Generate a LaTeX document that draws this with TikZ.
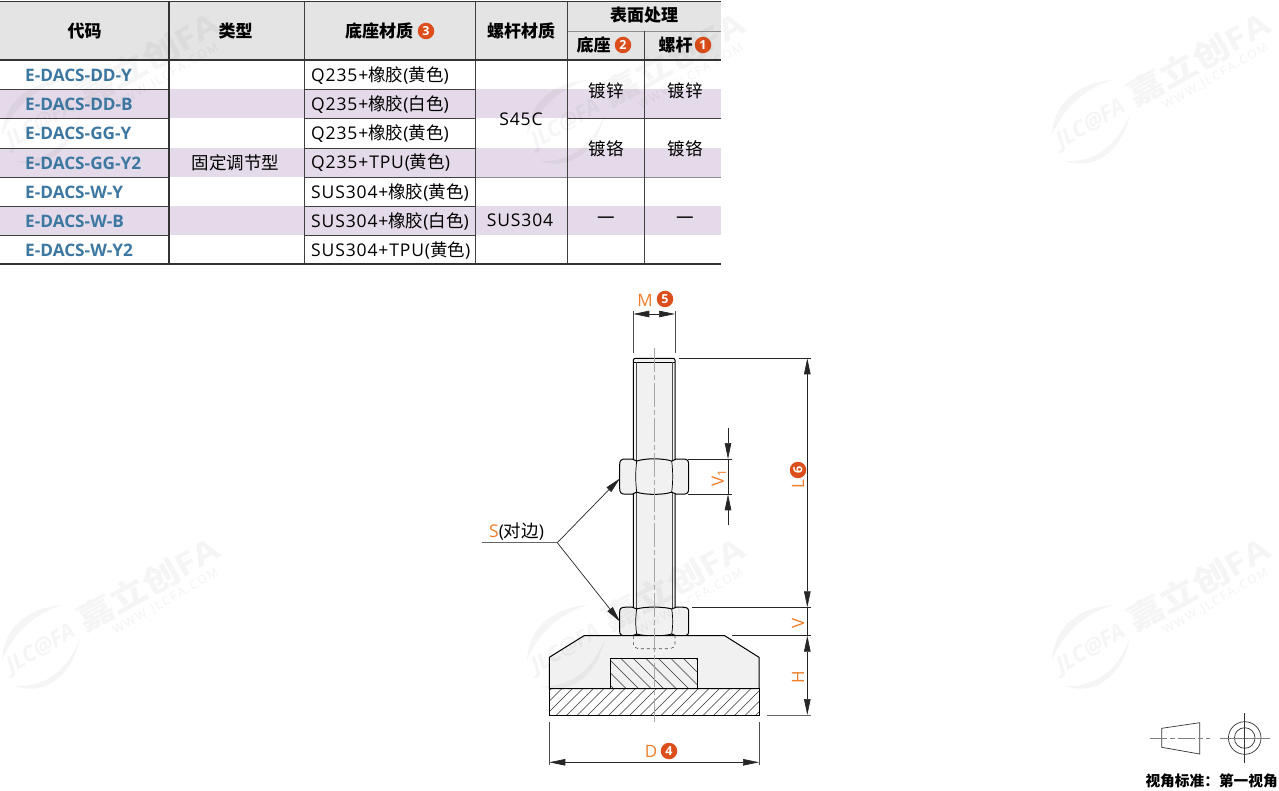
\documentclass[tikz,border=0pt]{standalone}
\usepackage{fontspec}
\setmainfont{Open Sans}
\newfontfamily\cjk{Noto Sans CJK SC}
\usetikzlibrary{arrows.meta}
\definecolor{headgray}{HTML}{E4E4E4}
\definecolor{rowlilac}{HTML}{E4DAE9}
\definecolor{codeblue}{HTML}{3D78A2}
\definecolor{dimorange}{HTML}{EF7D2A}
\definecolor{dotred}{HTML}{DC4E1B}
\definecolor{partgray}{HTML}{F1F1F1}
\newcommand{\zh}[1]{{\cjk #1}}
\tikzset{
    cell/.style={inner sep=0pt, font=\fontsize{17.5}{20}\selectfont\addfontfeatures{LetterSpace=5}},
    headcell/.style={inner sep=0pt, font=\fontsize{17}{20}\selectfont\bfseries},
    codecell/.style={inner sep=0pt, anchor=west, text=codeblue, font=\fontsize{17.2}{18}\selectfont\bfseries},
    numdot/.style={circle, fill=dotred, text=white, inner sep=0pt, minimum size=16.5pt, font=\fontsize{12.5}{12}\selectfont\bfseries},
    dimtext/.style={inner sep=0pt, text=dimorange, font=\fontsize{17}{18}\selectfont},
    thickrule/.style={line width=1.5pt, draw=black!80},
    thinrule/.style={line width=.8pt, draw=black!75},
    lightrule/.style={line width=.8pt, draw=black!45},
    outline/.style={line width=1pt, draw=black},
    dimrule/.style={line width=.7pt, draw=black!85},
    dimarrow/.style={dimrule, {Stealth[length=16pt,width=6.5pt,inset=0pt]}-{Stealth[length=16pt,width=6.5pt,inset=0pt]}},
    singlearrow/.style={dimrule, -{Stealth[length=16pt,width=6.5pt,inset=0pt]}},
    axisline/.style={line width=.6pt, draw=black!35, dash pattern=on 24pt off 3pt on 5pt off 3pt},
    hatching/.style={line width=.45pt, draw=black!80},
    hexnut/.pic={
        \draw[outline, fill=partgray] (-34.5,-12) .. controls (-34.5,-16) and (-33,-17.6) .. (-29,-17.6) -- (-22,-17.6) -- (-17.5,-15.5)
            .. controls (-10,-18.5) and (10,-18.5) .. (17.5,-15.5) -- (22,-17.6) -- (29,-17.6) .. controls (33,-17.6) and (34.5,-16) .. (34.5,-12)
            -- (34.5,12) .. controls (34.5,16) and (33,17.6) .. (29,17.6) -- (22,17.6) -- (17.5,15.5)
            .. controls (10,18.5) and (-10,18.5) .. (-17.5,15.5) -- (-22,17.6) -- (-29,17.6) .. controls (-33,17.6) and (-34.5,16) .. (-34.5,12) -- cycle;
        \draw[line width=.7pt] (-17.5,-15.5) .. controls (-18.8,-5) and (-18.8,5) .. (-17.5,15.5);
        \draw[line width=.7pt] (17.5,-15.5) .. controls (18.8,-5) and (18.8,5) .. (17.5,15.5);
    },
    jlcmark/.pic={
        \fill[black, opacity=.04] (63,75) .. controls (30,77) and (4,96) .. (2,130) .. controls (12,106) and (32,84) .. (63,75) -- cycle;
        \fill[black, opacity=.04] (80,108) .. controls (75,138) and (50,168) .. (15,156) .. controls (45,158) and (68,140) .. (80,108) -- cycle;
        \node[rotate=30, inner sep=0pt, text=black, opacity=.04, font=\fontsize{22}{22}\selectfont\bfseries\itshape] (logo) at (41,120) {JLC@FA};
        \node[rotate=29, xscale=1.2, inner sep=0pt, text=black, opacity=.04, font=\fontsize{31}{31}\selectfont\bfseries] (name) at (148,54) {\zh{嘉立创}FA};
        \node[rotate=30, inner sep=0pt, text=black, opacity=.05, font=\fontsize{12}{12}\selectfont\addfontfeatures{LetterSpace=16}] (site) at (166,72) {WWW.JLCFA.COM};
    }
}
\begin{document}
\begin{tikzpicture}[x=1pt, y=-1pt]
    \useasboundingbox (0,0) rectangle (1279,791);
    \fill[white] (0,0) rectangle (1279,791);

    \fill[headgray] (0,2) rectangle (721,60);
    \fill[rowlilac] (0,89.5) rectangle (721,118.5);
    \fill[rowlilac] (0,148) rectangle (721,177);
    \fill[rowlilac] (0,206.5) rectangle (721,235.5);

    \draw[thinrule] (0,89.5) -- (169,89.5);
    \draw[thinrule] (304,89.5) -- (475,89.5);
    \draw[thinrule] (0,118.5) -- (169,118.5);
    \draw[thinrule] (304,118.5) -- (475,118.5);
    \draw[thinrule] (567,118.5) -- (721,118.5);
    \draw[thinrule] (0,148) -- (169,148);
    \draw[thinrule] (304,148) -- (475,148);
    \draw[thinrule] (0,177) -- (169,177);
    \draw[thinrule] (304,177) -- (475,177);
    \draw[lightrule] (475,177) -- (721,177);
    \draw[thinrule] (0,206.5) -- (169,206.5);
    \draw[thinrule] (304,206.5) -- (475,206.5);
    \draw[thinrule] (0,235.5) -- (169,235.5);
    \draw[thinrule] (304,235.5) -- (475,235.5);
    \draw[lightrule] (567,31) -- (721,31);
    \draw[thinrule] (304,2) -- (304,264);
    \draw[thinrule] (475,2) -- (475,264);
    \draw[thinrule] (567,2) -- (567,264);
    \draw[thinrule] (644,31) -- (644,264);
    \draw[thickrule] (169,2) -- (169,264);
    \draw[thickrule] (0,1.5) -- (721,1.5);
    \draw[thickrule] (0,60) -- (721,60);
    \draw[thickrule] (0,264) -- (721,264);

    \node[headcell] (codehead) at (84.5,31) {\zh{代码}};
    \node[headcell] (typehead) at (235.5,31) {\zh{类型}};
    \node[headcell] (basehead) at (379,31) {\zh{底座材质}};
    \node[numdot] (dotthree) at (426,31) {3};
    \node[headcell] (screwhead) at (521,31) {\zh{螺杆材质}};
    \node[headcell] (surfacehead) at (644,15.5) {\zh{表面处理}};
    \node[headcell] (surfbasehead) at (593.5,45) {\zh{底座}};
    \node[numdot] (dottwo) at (623,45) {2};
    \node[headcell] (surfscrewhead) at (675.5,45) {\zh{螺杆}};
    \node[numdot] (dotone) at (703,45) {1};

    \node[codecell] (codea) at (25,75.5) {E-DACS-DD-Y};
    \node[codecell] (codeb) at (25,104.5) {E-DACS-DD-B};
    \node[codecell] (codec) at (25,133.5) {E-DACS-GG-Y};
    \node[codecell] (coded) at (25,163) {E-DACS-GG-Y2};
    \node[codecell] (codee) at (25,192.5) {E-DACS-W-Y};
    \node[codecell] (codef) at (25,221.5) {E-DACS-W-B};
    \node[codecell] (codeg) at (25,250.5) {E-DACS-W-Y2};

    \node[cell] (typecell) at (235.5,162.5) {\zh{固定调节型}};

    \node[cell, anchor=west] (basea) at (311,75.5) {Q235+\zh{橡胶}(\zh{黄色})};
    \node[cell, anchor=west] (baseb) at (311,104.5) {Q235+\zh{橡胶}(\zh{白色})};
    \node[cell, anchor=west] (basec) at (311,133.5) {Q235+\zh{橡胶}(\zh{黄色})};
    \node[cell, anchor=west] (based) at (311,162.5) {Q235+TPU(\zh{黄色})};
    \node[cell, anchor=west] (basee) at (311,192.5) {SUS304+\zh{橡胶}(\zh{黄色})};
    \node[cell, anchor=west] (basef) at (311,221.5) {SUS304+\zh{橡胶}(\zh{白色})};
    \node[cell, anchor=west] (baseg) at (311,250.5) {SUS304+TPU(\zh{黄色})};

    \node[cell] (screwa) at (521,119) {S45C};
    \node[cell] (screwb) at (520,220.5) {SUS304};
    \node[cell] (zinca) at (606,90.5) {\zh{镀锌}};
    \node[cell] (zincb) at (685,90.5) {\zh{镀锌}};
    \node[cell] (chroma) at (606,148.5) {\zh{镀铬}};
    \node[cell] (chromb) at (685,148.5) {\zh{镀铬}};
    \node[cell] (nonea) at (606,220.5) {\zh{一}};
    \node[cell] (noneb) at (685,220.5) {\zh{一}};

    \draw[outline, fill=partgray, rounded corners=2pt] (633.3,612) -- (633.3,358.3) -- (675,358.3) -- (675,612);
    \draw[line width=.5pt] (633.3,362.3) -- (675,362.3);
    \draw[line width=.5pt, draw=black!70] (636.7,362.3) -- (636.7,612);
    \draw[line width=.5pt, draw=black!70] (672.3,362.3) -- (672.3,612);
    \pic[yscale=1] at (654.2,476.6) {hexnut};
    \pic[yscale=.81] at (654.2,621.5) {hexnut};

    \draw[outline, fill=partgray] (584,635.7) -- (724.7,635.7) -- (759,657.3) -- (759,688.7) -- (549.3,688.7) -- (549.3,657.3) -- cycle;
    \draw[line width=.6pt, dashed, draw=black!70, rounded corners=5pt] (633.3,636) -- (633.3,648.7) -- (675,648.7) -- (675,636);

    \begin{scope}
        \clip (610.3,658.3) rectangle (697.7,688.7);
        \foreach \hx in {0,12.5,...,125} {
            \draw[hatching] (580+\hx,655) -- (620+\hx,695);
        }
    \end{scope}
    \draw[outline] (610.3,688.7) -- (610.3,658.3) -- (697.7,658.3) -- (697.7,688.7);
    \begin{scope}
        \clip (549.3,688.7) rectangle (759,715);
        \foreach \hx in {0,10.5,...,252} {
            \draw[hatching] (520+\hx,720) -- (560+\hx,680);
        }
    \end{scope}
    \draw[outline] (549.3,688.7) rectangle (759,715);
    \draw[axisline] (654.5,348) -- (654.5,723);

    \coordinate (mleft) at (633.3,314);
    \coordinate (mright) at (675,314);
    \draw[lightrule, draw=black!70] (633.3,311) -- (633.3,353);
    \draw[lightrule, draw=black!70] (675,311) -- (675,353);
    \draw[dimarrow] (mleft) -- (mright);
    \node[dimtext] (mlabel) at (645,300) {M};
    \node[numdot] (dotfive) at (665,299) {5};

    \coordinate (ltop) at (807.3,358.3);
    \coordinate (lbot) at (807.3,607.3);
    \coordinate (vbot) at (807.3,635.7);
    \coordinate (hbot) at (807.3,715);
    \draw[dimrule] (679,358.3) -- (811,358.3);
    \draw[dimrule] (692,607.3) -- (811,607.3);
    \draw[dimrule] (732,635.7) -- (811,635.7);
    \draw[dimrule, draw=black!60] (766.7,715) -- (811,715);
    \draw[dimarrow] (ltop) -- (lbot);
    \draw[dimrule] (lbot) -- (vbot);
    \draw[dimarrow] (vbot) -- (hbot);
    \node[dimtext, rotate=90] (llabel) at (798,484) {L};
    \node[numdot, rotate=90] (dotsix) at (798,470) {6};
    \node[dimtext, rotate=90] (vlabel) at (798,623) {V};
    \node[dimtext, rotate=90] (hlabel) at (798,677) {H};

    \coordinate (vonetail) at (728,427.7);
    \coordinate (vonetop) at (728,459);
    \coordinate (vonebot) at (728,494.3);
    \coordinate (vonefoot) at (728,525);
    \draw[dimrule] (688,459) -- (732,459);
    \draw[dimrule] (688,494.3) -- (732,494.3);
    \draw[singlearrow] (vonetail) -- (vonetop);
    \draw[dimrule] (vonetop) -- (vonebot);
    \draw[singlearrow] (vonefoot) -- (vonebot);
    \node[dimtext, rotate=90] (vonelabel) at (719,478) {V\textsubscript{1}};

    \coordinate (dleft) at (549.3,762.3);
    \coordinate (dright) at (759,762.3);
    \draw[lightrule, draw=black!70] (549.3,722.3) -- (549.3,765);
    \draw[lightrule, draw=black!70] (759,722.3) -- (759,765);
    \draw[dimarrow] (dleft) -- (dright);
    \node[dimtext] (dlabel) at (651,751) {D};
    \node[numdot] (dotfour) at (669,751) {4};

    \coordinate (sstart) at (482.3,542.7);
    \coordinate (sknee) at (557.3,542.7);
    \coordinate (snutup) at (620,478.3);
    \coordinate (snutlow) at (620,621.7);
    \draw[lightrule, draw=black!60] (sstart) -- (sknee);
    \draw[singlearrow] (sknee) -- (snutup);
    \draw[singlearrow] (sknee) -- (snutlow);
    \node[cell, anchor=base west] (slabel) at (489,537) {\textcolor{dimorange}{S}(\zh{对边})};

    \draw[line width=.7pt, draw=black!80] (1161.7,728.3) -- (1199.7,722.7) -- (1199.7,754) -- (1161.7,747.3) -- cycle;
    \draw[line width=.7pt, draw=black!50, dash pattern=on 17pt off 3pt on 5pt off 3pt] (1150,738) -- (1210,738);
    \draw[line width=.7pt, draw=black!80] (1244.7,738) circle (16.3);
    \draw[line width=.7pt, draw=black!80] (1244.7,738) circle (10.3);
    \draw[line width=.7pt, draw=black!50] (1220,738) -- (1270,738);
    \draw[line width=.7pt, draw=black!80] (1244.7,713) -- (1244.7,763);
    \node[inner sep=0pt, anchor=east, font=\fontsize{14.7}{16}\selectfont\bfseries] (viewnote) at (1278,781) {\zh{视角标准：第一视角}};

    \pic at (0,5) {jlcmark};
    \pic at (525,5) {jlcmark};
    \pic at (1050,5) {jlcmark};
    \pic at (0,530) {jlcmark};
    \pic at (525,530) {jlcmark};
    \pic at (1050,530) {jlcmark};
\end{tikzpicture}
\end{document}
